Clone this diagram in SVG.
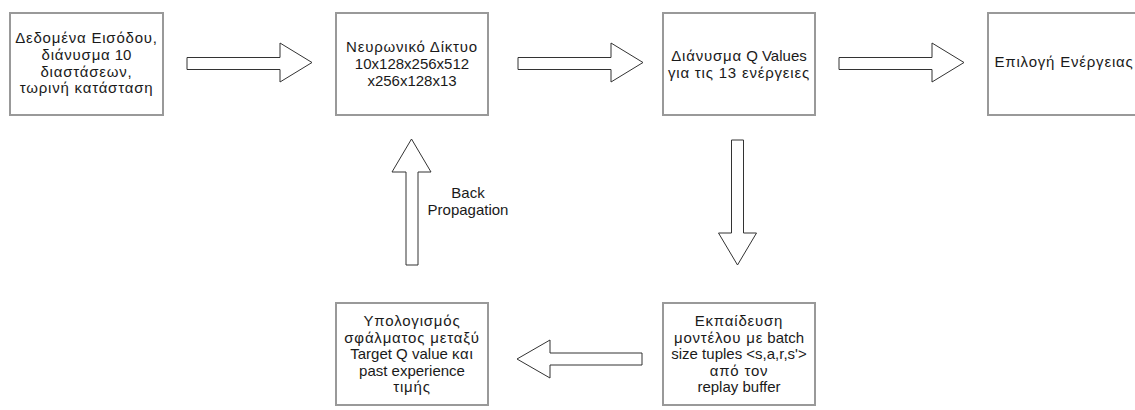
<svg xmlns="http://www.w3.org/2000/svg" width="1135" height="410" viewBox="0 0 1135 410">
  <style>
    .box { fill: #ffffff; stroke: #999999; stroke-width: 2; }
    .arrow { fill: #ffffff; stroke: #333333; stroke-width: 1; stroke-linejoin: miter; }
    text { font-family: "Liberation Sans", Arial, sans-serif; font-size: 15px; fill: #1a1a1a; text-anchor: middle; }
    /* Greek runs are set a little looser */
    .gr { letter-spacing: 0.8px; }
  </style>
  <rect width="1135" height="410" fill="#ffffff"/>

  <!-- block arrows -->
  <g id="connectors">
    <!-- input -> network -->
    <path class="arrow" d="M187,57.5 H280 V43 L312,62.5 L280,82 V69.5 H187 Z"/>
    <!-- network -> Q values -->
    <path class="arrow" d="M518,57.5 H611 V43 L643,62.5 L611,82 V69.5 H518 Z"/>
    <!-- Q values -> action selection -->
    <path class="arrow" d="M839,57.5 H932 V43 L964,62.5 L932,82 V69.5 H839 Z"/>
    <!-- Q values -> training -->
    <path class="arrow" d="M731.5,140 H743.5 V233 H756.5 L737.5,265 L718.5,233 H731.5 Z"/>
    <!-- training -> error computation -->
    <path class="arrow" d="M642,353 V365 H550 V378 L517,359 L550,340 V353 Z"/>
    <!-- error computation -> network (back propagation) -->
    <path class="arrow" d="M406,265 V172 H392 L411.5,139 L431,172 H418 V265 Z"/>
    <text x="468" y="198">Back</text>
    <text x="468" y="215">Propagation</text>
  </g>

  <g id="input">
    <rect class="box" x="10" y="13" width="153" height="102"/>
    <text class="gr" x="86.5" y="43">Δεδομένα Εισόδου,</text>
    <text x="86.5" y="60"><tspan class="gr">διάνυσμα</tspan> 10</text>
    <text class="gr" x="86.5" y="76.5">διαστάσεων,</text>
    <text class="gr" x="86.5" y="93">τωρινή κατάσταση</text>
  </g>

  <g id="network">
    <rect class="box" x="336" y="13" width="152" height="102"/>
    <text class="gr" x="412" y="52">Νευρωνικό Δίκτυο</text>
    <text x="412" y="69">10x128x256x512</text>
    <text x="412" y="86">x256x128x13</text>
  </g>

  <g id="qvalues">
    <rect class="box" x="663" y="13" width="152" height="102"/>
    <text x="739" y="61"><tspan class="gr">Διάνυσμα</tspan> Q Values</text>
    <text class="gr" x="739" y="78">για τις 13 ενέργειες</text>
  </g>

  <g id="action">
    <rect class="box" x="988" y="13" width="152" height="102"/>
    <text class="gr" x="1064" y="67">Επιλογή Ενέργειας</text>
  </g>

  <g id="error">
    <rect class="box" x="336" y="303" width="152" height="102"/>
    <text class="gr" x="412" y="326">Υπολογισμός</text>
    <text class="gr" x="412" y="342.5">σφάλματος μεταξύ</text>
    <text x="412" y="359">Target Q value <tspan class="gr">και</tspan></text>
    <text x="412" y="375.5">past experience</text>
    <text class="gr" x="412" y="392">τιμής</text>
  </g>

  <g id="training">
    <rect class="box" x="663" y="303" width="152" height="102"/>
    <text class="gr" x="739" y="326">Εκπαίδευση</text>
    <text x="739" y="342.5"><tspan class="gr">μοντέλου με</tspan> batch</text>
    <text x="739" y="359">size tuples &lt;s,a,r,s'&gt;</text>
    <text class="gr" x="739" y="375.5">από τον</text>
    <text x="739" y="392">replay buffer</text>
  </g>
</svg>
